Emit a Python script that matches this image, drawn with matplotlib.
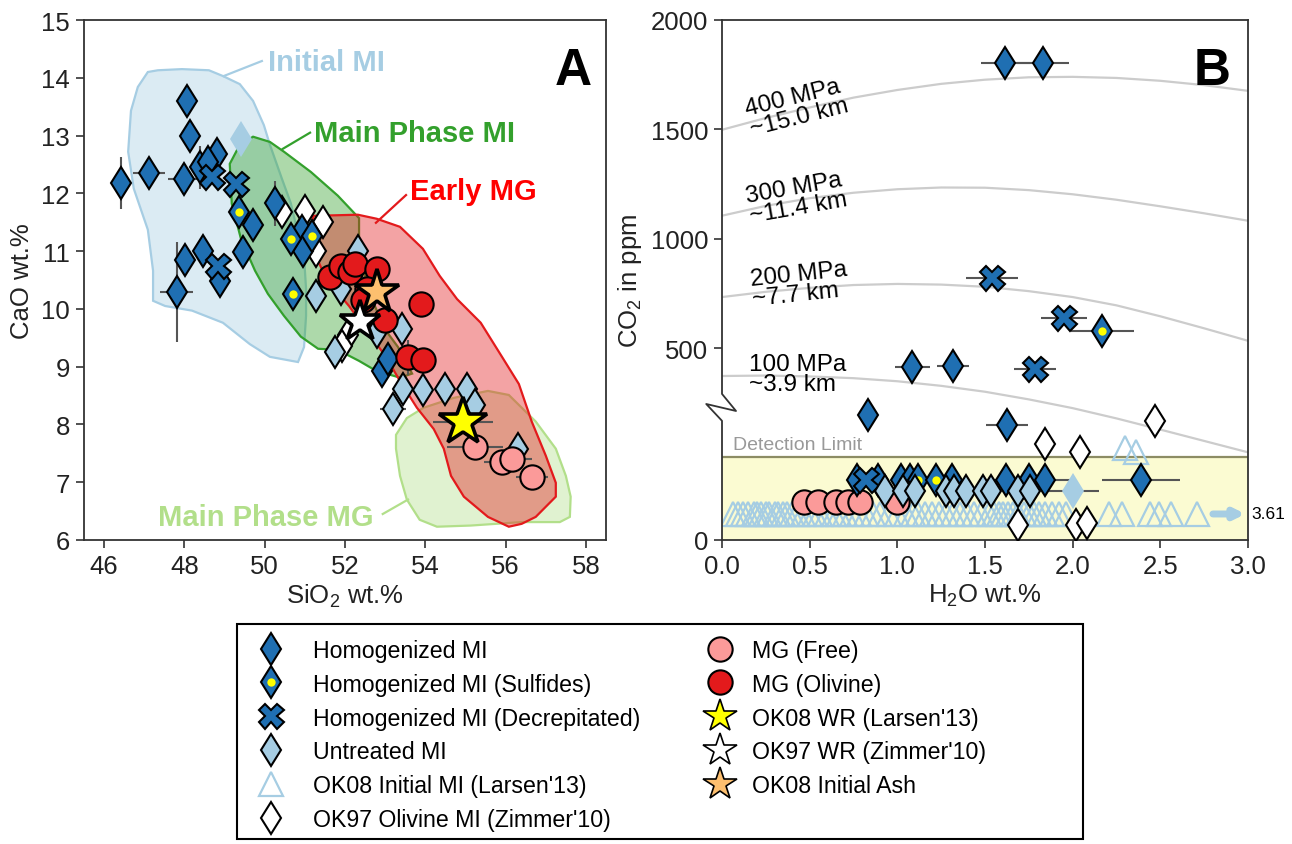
import matplotlib
matplotlib.use("Agg")
import matplotlib.pyplot as plt
from matplotlib.lines import Line2D
from matplotlib.patches import Polygon, Rectangle
from matplotlib.legend_handler import HandlerTuple

plt.rcParams['font.family'] = ['Liberation Sans', 'DejaVu Sans']
plt.rcParams['mathtext.fontset'] = 'custom'
plt.rcParams['mathtext.rm'] = 'Liberation Sans'
plt.rcParams['mathtext.it'] = 'Liberation Sans:italic'

# ---------------- colours ----------------
C_HOMO = '#1f6fb2'
C_UNTR = '#a6cde3'
C_FREE = '#fb9a99'
C_OLIV = '#e31a1c'
C_ASH = '#fdbf6f'
C_ERR = '#555555'

# ---------------- Panel A: SiO2 vs CaO ----------------
homo_sio2 = [48.06, 48.14, 46.41, 47.12, 48.00, 48.39, 48.82, 48.60, 49.71, 50.25,
             48.01, 48.47, 48.89, 49.45, 47.81, 50.92, 50.96, 52.91, 53.08]
homo_cao = [13.60, 13.00, 12.18, 12.35, 12.25, 12.45, 12.68, 12.54, 11.45, 11.83,
            10.84, 11.01, 10.49, 10.98, 10.29, 11.35, 11.00, 8.93, 9.13]
homo_sio2_err = [0, 0, 0, 0.39, 0.40, 0, 0, 0, 0, 0,
                 0, 0, 0, 0, 0.41, 0, 0, 0, 0]
homo_cao_err = [0, 0, 0.45, 0, 0, 0.37, 0, 0, 0, 0.39,
                0, 0, 0, 0, 0.87, 0, 0, 0, 0]

sulf_sio2 = [49.37, 50.70, 50.65, 51.17]
sulf_cao = [11.68, 10.26, 11.21, 11.27]

decr_sio2 = [48.68, 49.28, 48.84]
decr_cao = [12.28, 12.16, 10.75]

untr_sio2 = [51.29, 51.75, 52.33, 51.91, 52.79, 53.41, 53.45, 53.95, 54.49, 55.03,
             53.20, 56.31, 55.23]
untr_cao = [10.23, 9.25, 11.01, 10.35, 9.60, 9.65, 8.62, 8.59, 8.62, 8.62,
            8.27, 7.58, 8.33]
untr_sio2_err = [0, 0, 0, 0, 0, 0, 0, 0, 0, 0, 0.33, 0, 0]

faint_sio2 = [49.41]
faint_cao = [12.94]

z10_sio2 = [51.00, 51.46, 51.29, 50.42, 52.08, 51.92]
z10_cao = [11.70, 11.50, 11.01, 11.67, 9.54, 9.36]

free_sio2 = [55.23, 55.90, 56.15, 56.65]
free_cao = [7.61, 7.35, 7.40, 7.09]
free_sio2_err = [0.70, 0.45, 0.50, 0.40]

oliv_sio2 = [51.62, 51.91, 52.12, 52.25, 52.79, 52.54, 52.45, 53.90, 53.00, 53.58, 53.95]
oliv_cao = [10.55, 10.75, 10.63, 10.78, 10.69, 10.35, 10.15, 10.09, 9.80, 9.16, 9.11]
oliv_cao_err = [0, 0, 0, 0, 0, 0, 0, 0, 0, 0.30, 0]

wr08_sio2, wr08_cao, wr08_err = [54.94], [8.04], [0.75]
wr97_sio2, wr97_cao = [52.37], [9.77]
ash_sio2, ash_cao = [52.79], [10.29]

# field outlines (SiO2, CaO)
field_initial_mi = [(47.09, 14.10), (47.34, 14.13), (47.94, 14.15), (48.61, 14.13), (48.96, 14.03),
                    (49.38, 13.89), (49.71, 13.60), (49.98, 13.18), (50.13, 12.84), (50.43, 12.25),
                    (50.65, 11.83), (50.83, 11.30), (50.98, 10.90), (51.03, 10.35), (51.03, 9.88),
                    (50.98, 9.34), (50.83, 9.08), (50.13, 9.17), (49.63, 9.39), (48.96, 9.76),
                    (48.19, 9.97), (47.52, 10.05), (47.22, 10.14), (47.22, 10.66), (47.09, 11.37),
                    (46.74, 12.08), (46.60, 12.72), (46.67, 13.43), (46.84, 13.84)]
field_main_mi = [(49.13, 12.51), (49.38, 12.84), (49.71, 12.98), (50.13, 12.89), (50.48, 12.72),
                 (51.15, 12.37), (51.82, 11.96), (52.35, 11.57), (52.35, 10.92), (52.67, 10.17),
                 (52.99, 9.65), (53.32, 9.34), (53.67, 8.88), (53.37, 8.81), (52.77, 8.93),
                 (52.35, 9.10), (51.82, 9.29), (51.33, 9.31), (50.90, 9.52), (50.48, 9.88),
                 (50.08, 10.26), (49.76, 10.66), (49.41, 11.21), (49.18, 11.82)]
field_early_mg = [(51.20, 11.61), (52.32, 11.63), (52.79, 11.56), (53.37, 11.42), (53.94, 11.04),
                  (54.36, 10.57), (54.79, 10.17), (55.38, 9.76), (55.91, 9.17), (56.33, 8.70),
                  (56.65, 8.05), (57.00, 7.46), (57.25, 6.99), (57.25, 6.75), (56.75, 6.40),
                  (56.40, 6.28), (56.08, 6.23), (55.56, 6.40), (54.96, 6.75), (54.64, 7.11),
                  (54.46, 7.58), (54.21, 7.92), (53.79, 8.29), (53.37, 8.75), (53.02, 9.17),
                  (52.59, 9.58), (52.10, 10.05), (51.82, 10.28), (51.42, 10.69), (51.20, 11.04)]
field_main_mg = [(53.27, 7.82), (53.54, 8.11), (53.96, 8.29), (54.71, 8.46), (55.56, 8.58),
                 (56.08, 8.51), (56.40, 8.29), (56.75, 8.05), (57.25, 7.58), (57.50, 7.11),
                 (57.62, 6.75), (57.60, 6.40), (57.35, 6.31), (56.40, 6.31), (55.13, 6.25),
                 (54.29, 6.23), (53.86, 6.35), (53.54, 6.70), (53.37, 7.11), (53.27, 7.58)]

# ---------------- Panel B: H2O vs CO2 ----------------
# measured CO2 (ppm) above the detection limit
bh_h2o = [1.616, 1.83, 1.086, 1.316, 0.833, 1.627]
bh_co2 = [1805, 1805, 412, 417, 194, 146]
bh_err = [0.14, 0.15, 0.10, 0.09, 0, 0.12]
bs_h2o, bs_co2, bs_err = [2.17], [579], [0.18]
bd_h2o = [1.54, 1.949, 1.786]
bd_co2 = [818, 636, 404]
bd_err = [0.15, 0.13, 0.12]
bz_h2o = [1.84, 2.04, 2.47]
bz_co2 = [62, 24, 168]
bl_h2o = [2.30, 2.36]
bl_co2 = [41, 26]

# inclusions below the detection limit, drawn in rows inside the lower band
band_floor = -378
row_homo, row_untr, row_free, row_larsen = -105, -154, -206, -259
band_homo_h2o = [0.77, 0.89, 1.02, 1.07, 1.31, 1.62, 1.75, 1.84, 2.39]
band_homo_err = [0, 0, 0, 0, 0, 0.10, 0, 0.15, 0.22]
band_sulf_h2o = [1.12, 1.22]
band_decr_h2o = [0.824]
band_untr_h2o = [0.93, 1.035, 1.10, 1.277, 1.325, 1.392, 1.489, 1.537, 1.69, 1.758]
band_faint_h2o, band_faint_err = [2.0], [0.15]
band_free_h2o = [0.467, 0.545, 0.65, 0.72, 0.785, 0.997]
band_larsen_h2o = [0.06, 0.09, 0.12, 0.15, 0.18, 0.20, 0.22, 0.25, 0.27, 0.30, 0.32, 0.35,
                   0.37, 0.40, 0.43, 0.46, 0.50, 0.53, 0.56, 0.60, 0.64, 0.67, 0.70, 0.74,
                   0.78, 0.82, 0.86, 0.90, 0.95, 1.00, 1.05, 1.09, 1.12, 1.16, 1.20, 1.24,
                   1.28, 1.32, 1.36, 1.40, 1.44, 1.48, 1.52, 1.55, 1.58, 1.60, 1.63, 1.66,
                   1.69, 1.72, 1.75, 1.78, 1.81, 1.84, 1.88, 1.92, 1.96, 2.21, 2.28, 2.44,
                   2.49, 2.56, 2.71]
band_zim_h2o = [1.69, 2.018, 2.08]
band_zim_row = [-311, -311, -300]
larsen_max_h2o = '3.61'

# isobars (H2O wt.%, CO2 ppm)
iso_h2o = [0.0, 0.25, 0.5, 0.75, 1.0, 1.25, 1.5, 1.75, 2.0, 2.25, 2.5, 2.75, 3.0]
iso_400 = [1498, 1552, 1600, 1645, 1680, 1708, 1727, 1738, 1740, 1735, 1722, 1702, 1676]
iso_300 = [1105, 1150, 1185, 1210, 1226, 1234, 1233, 1222, 1203, 1178, 1148, 1116, 1082]
iso_200 = [733, 757, 775, 788, 793, 790, 780, 760, 733, 695, 645, 590, 533]
iso_100 = [372, 374, 370, 362, 348, 327, 300, 265, 225, 178, 127, 75, 23]
iso_labels = ['400 MPa\n~15.0 km', '300 MPa\n~11.4 km', '200 MPa\n~7.7 km', '100 MPa\n~3.9 km']
iso_label_pos = [(0.148, 1546, 14), (0.148, 1149, 10), (0.17, 770, 6), (0.154, 382, 0)]

# ---------------- figure ----------------
fig = plt.figure(figsize=(12.92, 8.45), dpi=100)
axA = fig.add_axes([84 / 1292, 1 - 541 / 845, 522 / 1292, 520 / 845])
axB = fig.add_axes([722 / 1292, 1 - 541 / 845, 526 / 1292, 520 / 845])

TICK_FS = 18.5
for ax in (axA, axB):
    for sp in ax.spines.values():
        sp.set_color('#333333')
        sp.set_linewidth(1.3)
    ax.tick_params(direction='out', length=6, width=1.2, color='#333333',
                   labelsize=TICK_FS, labelcolor='#222222', pad=4)

DKW = dict(linestyle='none', markeredgecolor='black', markeredgewidth=1.5)
MS_D, MS_O, MS_X, MS_T = 16.5, 17.5, 18, 17


def diamonds(ax, x, y, face, z, ms=MS_D, **kw):
    ax.plot(x, y, marker='d', markersize=ms, markerfacecolor=face, zorder=z, **DKW, **kw)


def yellow_dots(ax, x, y, z):
    ax.plot(x, y, linestyle='none', marker='o', markersize=6, markerfacecolor='#ffff00',
            markeredgewidth=0, zorder=z)


def errbars(ax, x, y, xerr=None, yerr=None, z=2):
    ax.errorbar(x, y, xerr=xerr, yerr=yerr, fmt='none', ecolor=C_ERR, elinewidth=1.5,
                capsize=0, zorder=z)


# ---- Panel A ----
fields = [(field_initial_mi, '#a6cde3'),
          (field_main_mi, '#33a02c'),
          (field_main_mg, '#b2df8a'),
          (field_early_mg, '#e31a1c')]
for i, (pts, col) in enumerate(fields):
    axA.add_patch(Polygon(pts, closed=True, facecolor=col, alpha=0.40, edgecolor='none', zorder=1 + i * 0.1))
    axA.add_patch(Polygon(pts, closed=True, facecolor='none', edgecolor=col, lw=1.6, zorder=1.05 + i * 0.1))

errbars(axA, homo_sio2, homo_cao, xerr=homo_sio2_err, yerr=homo_cao_err)
errbars(axA, untr_sio2, untr_cao, xerr=untr_sio2_err)
errbars(axA, free_sio2, free_cao, xerr=free_sio2_err)
errbars(axA, oliv_sio2, oliv_cao, yerr=oliv_cao_err)
errbars(axA, wr08_sio2, wr08_cao, xerr=wr08_err)

diamonds(axA, z10_sio2, z10_cao, 'white', 3)
axA.plot(faint_sio2, faint_cao, linestyle='none', marker='d', markersize=MS_D + 1.5,
         markerfacecolor=C_UNTR, markeredgewidth=0, zorder=3)
diamonds(axA, untr_sio2, untr_cao, C_UNTR, 4)
diamonds(axA, homo_sio2, homo_cao, C_HOMO, 5)
diamonds(axA, sulf_sio2, sulf_cao, C_HOMO, 5)
yellow_dots(axA, sulf_sio2, sulf_cao, 5.1)
axA.plot(decr_sio2, decr_cao, marker='X', markersize=MS_X, markerfacecolor=C_HOMO, zorder=5.2, **DKW)
axA.plot(free_sio2, free_cao, marker='o', markersize=MS_O, markerfacecolor=C_FREE, zorder=6, **DKW)
axA.plot(oliv_sio2, oliv_cao, marker='o', markersize=MS_O, markerfacecolor=C_OLIV, zorder=6, **DKW)
SKW = dict(linestyle='none', markeredgecolor='black', markeredgewidth=2.6)
axA.plot(ash_sio2, ash_cao, marker='*', markersize=33, markerfacecolor=C_ASH, zorder=7, **SKW)
axA.plot(wr97_sio2, wr97_cao, marker='*', markersize=31, markerfacecolor='white', zorder=7, **SKW)
axA.plot(wr08_sio2, wr08_cao, marker='*', markersize=36, markerfacecolor='#ffff00', zorder=7, **SKW)

LBL = dict(fontsize=21, fontweight='bold', va='center', ha='left')
axA.text(50.08, 14.27, 'Initial MI', color='#a6cde3', **LBL)
axA.plot([48.98, 49.93], [14.03, 14.29], color='#a6cde3', lw=1.6, zorder=1.2)
axA.text(51.22, 13.04, 'Main Phase MI', color='#33a02c', **LBL)
axA.plot([50.45, 51.13], [12.77, 13.05], color='#33a02c', lw=1.6, zorder=1.2)
axA.text(53.62, 12.04, 'Early MG', color='#ff0000', **LBL)
axA.plot([52.77, 53.52], [11.49, 11.97], color='#e31a1c', lw=1.6, zorder=1.2)
axA.text(47.34, 6.39, 'Main Phase MG', color='#b2df8a', **LBL)
axA.plot([52.94, 53.57], [6.45, 6.70], color='#b2df8a', lw=1.6, zorder=1.2)
axA.text(0.937, 0.902, 'A', transform=axA.transAxes, fontsize=37, fontweight='bold',
         ha='center', va='center')

axA.set_xlim(45.5, 58.5)
axA.set_ylim(6, 15)
axA.set_xticks(range(46, 59, 2))
axA.set_yticks(range(6, 16))
axA.set_xlabel('SiO$_2$ wt.%', fontsize=TICK_FS, color='#222222', labelpad=3)
axA.set_ylabel('CaO wt.%', fontsize=TICK_FS, color='#222222', labelpad=5)

# ---- Panel B ----
axB.set_xlim(0, 3.0)
axB.set_ylim(band_floor, 2000)
axB.add_patch(Rectangle((0, band_floor), 3.0, -band_floor, facecolor='#fbfbd2', edgecolor='none', zorder=0))
axB.axhline(0, color='#8c8c64', lw=1.6, zorder=1)
axB.text(0.06, 57, 'Detection Limit', color='#999999', fontsize=14, ha='left', va='center', zorder=1)

for iso in (iso_400, iso_300, iso_200, iso_100):
    axB.plot(iso_h2o, iso, color='#cccccc', lw=1.6, zorder=1)
for lab, (x, y, rot) in zip(iso_labels, iso_label_pos):
    axB.text(x, y, lab, fontsize=17.5, rotation=rot, rotation_mode='anchor', ha='left',
             va='center', linespacing=0.88, zorder=2)

errbars(axB, bh_h2o, bh_co2, xerr=bh_err)
errbars(axB, bs_h2o, bs_co2, xerr=bs_err)
errbars(axB, bd_h2o, bd_co2, xerr=bd_err)
errbars(axB, band_homo_h2o, [row_homo] * len(band_homo_h2o), xerr=band_homo_err)
errbars(axB, band_faint_h2o, [row_untr] * len(band_faint_h2o), xerr=band_faint_err)

axB.plot(band_larsen_h2o, [row_larsen] * len(band_larsen_h2o), linestyle='none', marker='^',
         markersize=MS_T, markerfacecolor='none', markeredgecolor=C_UNTR, markeredgewidth=1.6, zorder=3)
axB.plot(bl_h2o, bl_co2, linestyle='none', marker='^', markersize=MS_T, markerfacecolor='none',
         markeredgecolor=C_UNTR, markeredgewidth=1.6, zorder=3)
axB.annotate('', xy=(2.985, row_larsen), xytext=(2.8, row_larsen),
             arrowprops=dict(arrowstyle='-|>', lw=5, color=C_UNTR, mutation_scale=14,
                             shrinkA=0, shrinkB=0), zorder=3)
axB.text(3.02, row_larsen, larsen_max_h2o, fontsize=12.5, ha='left', va='center', clip_on=False)

axB.plot(band_free_h2o, [row_free] * len(band_free_h2o), marker='o', markersize=MS_O,
         markerfacecolor=C_FREE, zorder=4, **DKW)
diamonds(axB, band_zim_h2o, band_zim_row, 'white', 4)
diamonds(axB, bz_h2o, bz_co2, 'white', 4)
axB.plot(band_faint_h2o, [row_untr], linestyle='none', marker='d', markersize=MS_D + 1.5,
         markerfacecolor=C_UNTR, markeredgewidth=0, zorder=4)
diamonds(axB, band_homo_h2o, [row_homo] * len(band_homo_h2o), C_HOMO, 4.5)
diamonds(axB, band_sulf_h2o, [row_homo] * len(band_sulf_h2o), C_HOMO, 4.5)
yellow_dots(axB, band_sulf_h2o, [row_homo] * len(band_sulf_h2o), 4.6)
axB.plot(band_decr_h2o, [row_homo], marker='X', markersize=MS_X, markerfacecolor=C_HOMO, zorder=4.7, **DKW)
diamonds(axB, band_untr_h2o, [row_untr] * len(band_untr_h2o), C_UNTR, 5)

diamonds(axB, bh_h2o, bh_co2, C_HOMO, 5)
diamonds(axB, bs_h2o, bs_co2, C_HOMO, 5)
yellow_dots(axB, bs_h2o, bs_co2, 5.1)
axB.plot(bd_h2o, bd_co2, marker='X', markersize=MS_X, markerfacecolor=C_HOMO, zorder=5.2, **DKW)

axB.text(0.932, 0.902, 'B', transform=axB.transAxes, fontsize=37, fontweight='bold',
         ha='center', va='center')

axB.set_xticks([0.0, 0.5, 1.0, 1.5, 2.0, 2.5, 3.0])
axB.set_xticklabels(['0.0', '0.5', '1.0', '1.5', '2.0', '2.5', '3.0'])
axB.set_yticks([band_floor, 500, 1000, 1500, 2000])
axB.set_yticklabels(['0', '500', '1000', '1500', '2000'])
axB.set_xlabel('H$_2$O wt.%', fontsize=TICK_FS, color='#222222', labelpad=3)
axB.set_ylabel('CO$_2$ in ppm', fontsize=TICK_FS, color='#222222', labelpad=5)

# broken left spine
axB.spines['left'].set_visible(False)
brk_x = [0, 0, -0.09, 0.08, 0, 0]
brk_y = [band_floor, 167, 244, 212, 290, 2000]
axB.plot(brk_x, brk_y, color='#333333', lw=1.3, clip_on=False, zorder=10)

# ---------------- legend ----------------
def mk(marker, face, ms=MS_D, edge='black', mew=1.5):
    return Line2D([], [], linestyle='none', marker=marker, markersize=ms, markerfacecolor=face,
                  markeredgecolor=edge, markeredgewidth=mew)


h_homo = mk('d', C_HOMO)
h_sulf = (mk('d', C_HOMO), Line2D([], [], linestyle='none', marker='o', markersize=6,
                                  markerfacecolor='#ffff00', markeredgewidth=0))
h_decr = mk('X', C_HOMO, ms=MS_X)
h_untr = mk('d', C_UNTR)
h_lars = mk('^', 'none', ms=MS_T, edge=C_UNTR, mew=1.6)
h_zim = mk('d', 'white')
h_free = mk('o', C_FREE, ms=MS_O)
h_oliv = mk('o', C_OLIV, ms=MS_O)
h_wr08 = mk('*', '#ffff00', ms=25, mew=1.2)
h_wr97 = mk('*', 'white', ms=25, mew=1.2)
h_ash = mk('*', C_ASH, ms=25, mew=1.2)

col1_handles = [h_homo, h_sulf, h_decr, h_untr, h_lars, h_zim]
col1_labels = ['Homogenized MI', 'Homogenized MI (Sulfides)', 'Homogenized MI (Decrepitated)',
               'Untreated MI', "OK08 Initial MI (Larsen'13)", "OK97 Olivine MI (Zimmer'10)"]
col2_handles = [h_free, h_oliv, h_wr08, h_wr97, h_ash]
col2_labels = ['MG (Free)', 'MG (Olivine)', "OK08 WR (Larsen'13)", "OK97 WR (Zimmer'10)",
               'OK08 Initial Ash']

W, H = 1292, 845
fig.patches.append(Rectangle((237 / W, 1 - 840 / H), 846 / W, 215 / H, transform=fig.transFigure,
                             facecolor='white', edgecolor='black', lw=1.5, zorder=0))
LEG_FS = 16.7
common = dict(loc='upper left', fontsize=LEG_FS, frameon=False, handlelength=2.0,
              labelspacing=0.47, borderpad=0, borderaxespad=0,
              handler_map={tuple: HandlerTuple(ndivide=1)})
leg1 = fig.legend(col1_handles, col1_labels, bbox_to_anchor=(247.8 / W, 1 - 639.7 / H),
                  handletextpad=0.81, **common)
leg2 = fig.legend(col2_handles, col2_labels, bbox_to_anchor=(696.8 / W, 1 - 639.7 / H),
                  handletextpad=0.38, **common)

fig.savefig('out.png', dpi=100)
